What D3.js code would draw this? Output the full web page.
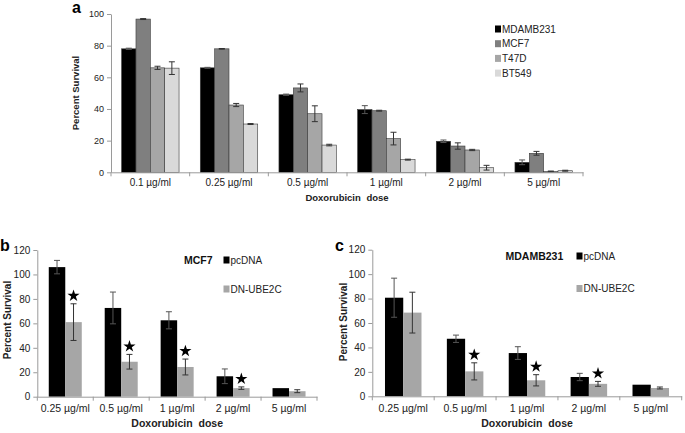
<!DOCTYPE html>
<html><head><meta charset="utf-8">
<script src="https://cdn.jsdelivr.net/npm/d3@7"></script>
<style>
body{margin:0;background:#fff;}
svg{display:block;font-family:"Liberation Sans",Arial,sans-serif;}
</style></head>
<body>
<svg id="chart" width="685" height="433"></svg>
<script>
// ---------- Panel a data ----------
const doseA = ["0.1 µg/ml","0.25 µg/ml","0.5 µg/ml","1 µg/ml","2 µg/ml","5 µg/ml"];
const seriesA = ["MDAMB231","MCF7","T47D","BT549"];
const mdamb231A = [78, 66, 49, 39.6, 19.6, 6.3];
const mcf7A     = [96.8, 78, 53.3, 38.9, 16.6, 12];
const t47dA     = [66, 42.5, 37, 21.3, 14.1, 0.6];
const bt549A    = [65.8, 30.5, 17.2, 8, 2.9, 1];
const mdamb231ErrA = [0.4, 0.3, 0.4, 2.5, 0.8, 1.5];
const mcf7ErrA     = [0.3, 0.2, 2.5, 0.3, 2, 1.2];
const t47dErrA     = [1, 1, 5, 4, 0.4, 0.2];
const bt549ErrA    = [4, 0.3, 0.5, 0.3, 1.5, 0.3];
const yTicksA = [0, 20, 40, 60, 80, 100];

// ---------- Panel b/c data ----------
const doseBC = ["0.25 µg/ml","0.5 µg/ml","1 µg/ml","2 µg/ml","5 µg/ml"];
const seriesBC = ["pcDNA","DN-UBE2C"];
const pcdnaB    = [106, 72.6, 62.5, 16.7, 7];
const pcdnaErrB = [5.5, 13, 7, 6, 0];
const dnB       = [61, 28.6, 24.3, 7, 4.5];
const dnErrB    = [15, 6, 6.5, 1, 1.2];
const starsB    = [1, 1, 1, 1, 0];
const pcdnaC    = [80.7, 47.1, 35.4, 15.8, 9.5];
const pcdnaErrC = [16, 3, 5.2, 3, 0];
const dnC       = [68.5, 20.4, 13.1, 10.2, 6.8];
const dnErrC    = [16.7, 7, 4.6, 2, 0.8];
const starsC    = [0, 1, 1, 1, 0];
const yTicksBC = [0, 20, 40, 60, 80, 100, 120];

const svg = d3.select("#chart");
const axisColor = "#9a9a9a";
const textColor = "#222";

function drawPanel(o) {
  const g = svg.append("g");
  const x = d3.scaleBand().domain(o.cats).range([o.x0, o.x1]).padding(0);
  const step = x.bandwidth();
  const f = o.fill;
  const xs = d3.scaleBand().domain(o.series).range([step*(1-f)/2, step*(1+f)/2]).padding(0);
  const y = d3.scaleLinear().domain([0, o.ymax]).range([o.y0, o.y1]);

  o.series.forEach((s, si) => {
    const vals = o.values[si], errs = o.errs[si];
    const gs = g.append("g");
    gs.selectAll("rect").data(o.cats).join("rect")
      .attr("x", (c) => x(c) + xs(s))
      .attr("y", (c, i) => y(vals[i]))
      .attr("width", xs.bandwidth())
      .attr("height", (c, i) => y(0) - y(vals[i]))
      .attr("fill", o.colors[si])
      .attr("stroke", o.barStroke)
      .attr("stroke-width", 0.6);
    o.cats.forEach((c, i) => {
      if (!errs[i]) return;
      const cx = x(c) + xs(s) + xs.bandwidth()/2;
      const ec = si === 0 && o.colors[0] === "#000" ? "#555" : "#333";
      const top = y(vals[i] + errs[i]), bot = y(Math.max(0, vals[i] - errs[i]));
      gs.append("line").attr("x1", cx).attr("x2", cx).attr("y1", top).attr("y2", bot)
        .attr("stroke", ec).attr("stroke-width", 1);
      [top, bot].forEach(yy => gs.append("line").attr("x1", cx - o.cap).attr("x2", cx + o.cap)
        .attr("y1", yy).attr("y2", yy).attr("stroke", ec).attr("stroke-width", 1));
    });
  });

  if (o.stars) {
    const si = 1, s = o.series[1];
    o.cats.forEach((c, i) => {
      if (!o.stars[i]) return;
      const cx = x(c) + xs(s) + xs.bandwidth()/2;
      const cy = y(o.values[si][i] + o.errs[si][i]) - 8;
      g.append("path").attr("d", d3.symbol(d3.symbolStar, 46)())
        .attr("transform", `translate(${cx},${cy})`).attr("fill", "#000");
    });
  }

  const yAxis = d3.axisLeft(y).tickValues(o.yTicks).tickSize(4).tickSizeOuter(0).tickPadding(3);
  const ya = g.append("g").attr("transform", `translate(${o.x0},0)`).call(yAxis);
  ya.select(".domain").attr("stroke", axisColor);
  ya.selectAll(".tick line").attr("stroke", axisColor);
  ya.selectAll(".tick text").attr("fill", textColor).style("font-size", o.yFont + "px");

  const xAxis = d3.axisBottom(x).tickSize(0).tickPadding(o.xPad);
  const xa = g.append("g").attr("transform", `translate(0,${o.y0})`).call(xAxis);
  xa.select(".domain").attr("stroke", axisColor);
  xa.selectAll(".tick text").attr("fill", textColor).style("font-size", o.xFont + "px");
  const bounds = o.cats.map(c => x(c)).concat([o.x1]);
  xa.selectAll(".sep").data(bounds).join("line").attr("class", "sep")
    .attr("x1", d => d).attr("x2", d => d).attr("y1", 0).attr("y2", 4)
    .attr("stroke", axisColor);

  g.append("text").attr("x", (o.x0 + o.x1)/2).attr("y", o.xTitleY)
    .attr("text-anchor", "middle").attr("font-weight", "bold").attr("font-size", o.titleFont)
    .attr("fill", textColor).attr("word-spacing", 3).text("Doxorubicin dose");
  g.append("text").attr("transform", `translate(${o.yTitleX},${o.yTitleY}) rotate(-90)`)
    .attr("text-anchor", "middle").attr("font-weight", "bold").attr("font-size", o.yTitleFont)
    .attr("fill", textColor).text("Percent Survival");
  g.append("text").attr("x", o.labelX).attr("y", o.labelY).attr("font-weight", "bold")
    .attr("font-size", 16).attr("fill", "#000").text(o.label);
  return g;
}

drawPanel({
  cats: doseA, series: seriesA, x0: 111, x1: 583, y0: 172.3, y1: 14, ymax: 100,
  values: [mdamb231A, mcf7A, t47dA, bt549A],
  errs: [mdamb231ErrA, mcf7ErrA, t47dErrA, bt549ErrA],
  colors: ["#000", "#7f7f7f", "#a6a6a6", "#d9d9d9"], barStroke: "#3a3a3a",
  fill: 0.73, cap: 3, yTicks: yTicksA, yFont: 9, xFont: 10, xPad: 7,
  titleFont: 9.5, yTitleFont: 9.5, xTitleY: 200.5, yTitleX: 79, yTitleY: 93,
  label: "a", labelX: 72, labelY: 13
});
const legA = svg.append("g");
seriesA.forEach((s, i) => {
  const cy = 29 + i * 14.7;
  legA.append("rect").attr("x", 495).attr("y", cy - 3.5).attr("width", 6).attr("height", 7)
    .attr("fill", ["#000", "#7f7f7f", "#a6a6a6", "#d9d9d9"][i]);
  legA.append("text").attr("x", 502).attr("y", cy + 3.6).attr("font-size", 10)
    .attr("fill", textColor).text(s);
});

drawPanel({
  cats: doseBC, series: seriesBC, x0: 37.3, x1: 317, y0: 396.7, y1: 250, ymax: 120,
  values: [pcdnaB, dnB], errs: [pcdnaErrB, dnErrB],
  colors: ["#000", "#a6a6a6"], barStroke: "none",
  fill: 0.59, cap: 3, yTicks: yTicksBC, yFont: 10, xFont: 10.5, xPad: 8,
  titleFont: 10.5, yTitleFont: 10, xTitleY: 427, yTitleX: 10.5, yTitleY: 320, stars: starsB,
  label: "b", labelX: 0, labelY: 251
});
drawPanel({
  cats: doseBC, series: seriesBC, x0: 372.3, x1: 681.7, y0: 396.3, y1: 249.7, ymax: 120,
  values: [pcdnaC, dnC], errs: [pcdnaErrC, dnErrC],
  colors: ["#000", "#a6a6a6"], barStroke: "none",
  fill: 0.59, cap: 3, yTicks: yTicksBC, yFont: 10, xFont: 10.5, xPad: 8,
  titleFont: 10.5, yTitleFont: 10, xTitleY: 427, yTitleX: 347, yTitleY: 322, stars: starsC,
  label: "c", labelX: 335, labelY: 251
});

function legendBC(titleX, sqX, y1, y2, title) {
  const lg = svg.append("g");
  lg.append("text").attr("x", titleX).attr("y", y1 + 4).attr("font-size", 10.5)
    .attr("font-weight", "bold").attr("fill", "#111").text(title);
  [[y1, "#000", seriesBC[0]], [y2, "#a6a6a6", seriesBC[1]]].forEach(([cy, col, t]) => {
    lg.append("rect").attr("x", sqX).attr("y", cy - 3.5).attr("width", 6).attr("height", 7).attr("fill", col);
    lg.append("text").attr("x", sqX + 7).attr("y", cy + 3.6).attr("font-size", 10)
      .attr("fill", textColor).text(t);
  });
}
legendBC(184, 223.5, 260, 289, "MCF7");
legendBC(505.5, 576.5, 256, 288.5, "MDAMB231");
</script>
</body></html>
